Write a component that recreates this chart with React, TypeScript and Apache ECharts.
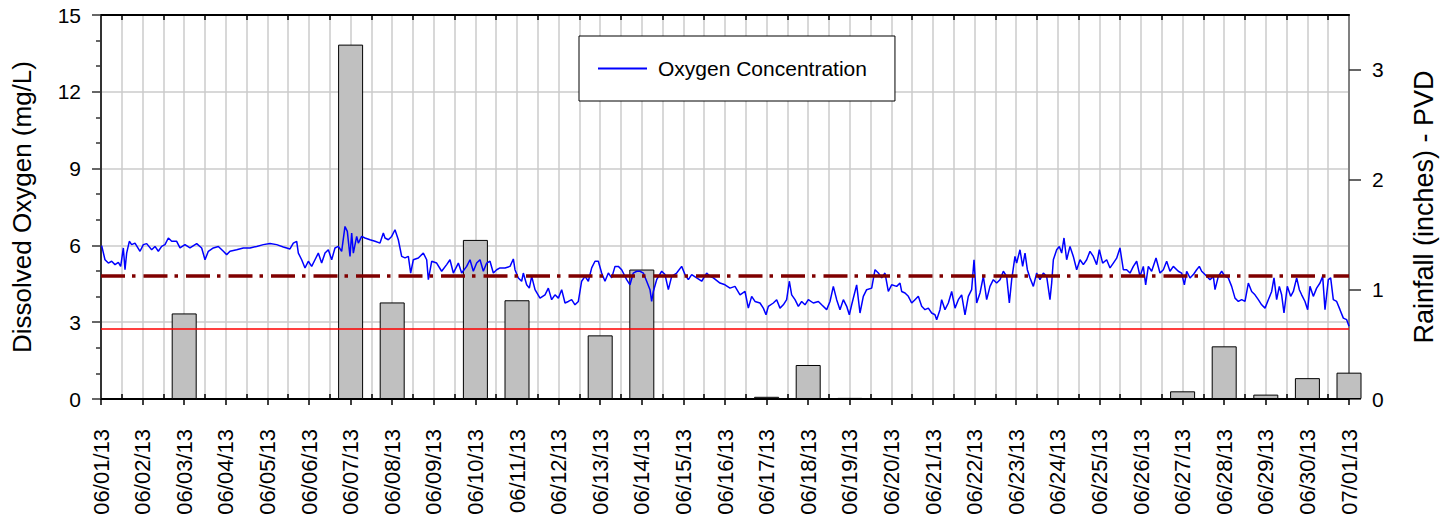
import React, { useEffect, useRef } from 'react';
import * as echarts from 'echarts';

const FONT = "'Liberation Sans', Arial, sans-serif";

const dateLabels = [
  '06/01/13', '06/02/13', '06/03/13', '06/04/13', '06/05/13', '06/06/13', '06/07/13', '06/08/13',
  '06/09/13', '06/10/13', '06/11/13', '06/12/13', '06/13/13', '06/14/13', '06/15/13', '06/16/13',
  '06/17/13', '06/18/13', '06/19/13', '06/20/13', '06/21/13', '06/22/13', '06/23/13', '06/24/13',
  '06/25/13', '06/26/13', '06/27/13', '06/28/13', '06/29/13', '06/30/13', '07/01/13',
];

// Rainfall: day offset from 06/01/13, inches
const rainfallDay = [2, 6, 7, 9, 10, 12, 13, 16, 17, 18, 26, 27, 28, 29, 30];
const rainfallInches = [0.78, 3.23, 0.88, 1.45, 0.9, 0.58, 1.18, 0.02, 0.31, 0.01, 0.07, 0.48, 0.04, 0.19, 0.24];

const doTarget = 4.8;
const doMinimum = 2.75;

const leftTicks = { min: 0, max: 15, interval: 3 };
const rightTicks = [0, 1, 2, 3];

// Oxygen readings: [day offset from 06/01/13, mg/L]
const oxygenWeek1: [number, number][] = [
  [0.016, 5.99], [0.096, 5.44], [0.176, 5.31], [0.256, 5.38], [0.337, 5.25], [0.417, 5.34], [0.473, 5.18],
  [0.537, 5.9], [0.577, 5.05], [0.617, 5.7], [0.681, 6.16], [0.737, 6.03], [0.817, 6.09], [0.938, 5.77],
  [1.018, 6.03], [1.098, 6.07], [1.218, 5.83], [1.298, 5.96], [1.378, 5.77], [1.458, 5.96], [1.538, 6.03],
  [1.619, 6.29], [1.699, 6.16], [1.819, 6.16], [1.899, 5.9], [2.019, 6.03], [2.139, 5.9], [2.3, 6.07],
  [2.42, 5.9], [2.5, 5.44], [2.58, 5.77], [2.7, 5.9], [2.821, 5.96], [2.941, 5.77], [3.021, 5.64],
  [3.101, 5.77], [3.261, 5.83], [3.421, 5.9], [3.582, 5.9], [3.742, 5.96], [3.902, 6.03], [4.063, 6.07],
  [4.223, 6.03], [4.383, 5.94], [4.543, 5.86], [4.623, 6.09], [4.704, 6.16], [4.744, 5.7], [4.824, 5.44],
  [4.904, 5.12], [4.984, 5.38], [5.064, 5.18], [5.144, 5.44], [5.224, 5.7], [5.304, 5.31], [5.385, 5.7],
  [5.465, 5.83], [5.545, 5.44], [5.625, 5.9], [5.705, 5.96], [5.785, 5.77], [5.865, 6.74], [5.921, 6.55],
  [5.986, 5.57], [6.026, 6.48], [6.066, 5.7], [6.146, 6.35], [6.186, 6.09], [6.266, 6.35], [6.346, 6.29],
  [6.466, 6.22], [6.587, 6.16], [6.707, 6.09], [6.787, 6.48], [6.827, 6.29], [6.907, 6.22], [6.987, 6.35],
  [7.067, 6.61], [7.147, 6.22], [7.228, 5.57], [7.308, 5.51], [7.388, 5.57], [7.444, 4.92], [7.508, 5.44],
  [7.628, 5.51], [7.748, 5.7], [7.829, 5.44], [7.869, 4.66], [7.949, 5.38], [8.069, 5.31], [8.189, 4.99],
  [8.309, 5.25], [8.389, 5.44], [8.47, 4.92], [8.59, 5.31], [8.67, 4.92], [8.79, 5.18], [8.87, 5.44],
  [8.95, 4.99], [9.03, 5.31],
];

const oxygenMidMonth: [number, number][] = [
  [9.111, 5.44], [9.191, 4.99], [9.271, 5.31], [9.351, 5.38], [9.431, 4.92], [9.511, 5.05], [9.591, 5.12],
  [9.712, 5.12], [9.832, 5.18], [9.912, 5.47], [9.952, 5.05], [10.032, 4.73], [10.112, 4.6], [10.152, 4.92],
  [10.232, 4.46], [10.296, 4.33], [10.353, 4.79], [10.433, 4.27], [10.553, 3.94], [10.673, 4.07], [10.753, 4.33],
  [10.833, 3.88], [10.913, 4.07], [10.994, 3.94], [11.074, 4.27], [11.154, 3.75], [11.234, 3.81], [11.314, 3.88],
  [11.394, 3.68], [11.474, 3.81], [11.554, 4.6], [11.635, 4.79], [11.715, 4.6], [11.795, 5.12], [11.875, 5.38],
  [11.955, 5.38], [12.035, 4.92], [12.115, 4.6], [12.196, 4.92], [12.276, 4.73], [12.356, 5.18], [12.436, 5.18],
  [12.516, 5.05], [12.636, 4.66], [12.716, 4.46], [12.796, 4.92], [12.877, 4.99], [12.957, 4.99], [13.037, 4.92],
  [13.117, 4.6], [13.197, 4.27], [13.237, 3.81], [13.277, 4.2], [13.357, 4.66], [13.478, 4.99], [13.558, 4.86],
  [13.638, 4.27], [13.718, 4.79], [13.838, 4.92], [13.958, 5.18], [14.038, 4.86], [14.119, 4.66], [14.199, 4.86],
  [14.319, 4.73], [14.439, 4.6], [14.559, 4.92], [14.639, 4.79], [14.72, 4.73], [14.88, 4.53], [15.0, 4.46],
  [15.12, 4.33], [15.24, 4.4], [15.361, 4.07], [15.481, 4.2], [15.561, 3.55], [15.641, 4.01], [15.721, 3.81],
  [15.841, 3.75], [15.921, 3.55], [15.986, 3.29], [16.042, 3.62], [16.162, 3.75], [16.242, 3.88], [16.322, 3.55],
  [16.402, 3.68], [16.482, 3.88], [16.546, 4.6], [16.603, 4.07], [16.683, 3.88], [16.763, 3.62], [16.843, 3.81],
  [16.923, 3.68], [17.003, 3.88], [17.123, 3.75], [17.244, 3.81], [17.324, 3.68], [17.444, 3.49], [17.524, 3.81],
  [17.604, 4.4], [17.684, 3.88], [17.764, 3.49], [17.845, 3.88], [17.925, 3.62], [17.989, 3.29], [18.045, 3.68],
  [18.165, 4.46], [18.245, 3.36], [18.325, 4.01], [18.405, 4.27], [18.526, 4.33], [18.606, 5.05], [18.686, 4.92],
  [18.766, 4.73], [18.846, 4.92], [18.926, 4.2], [19.006, 4.46], [19.127, 4.4], [19.207, 4.53],
];

const oxygenLateMonth: [number, number][] = [
  [19.247, 4.2], [19.327, 4.14], [19.407, 4.01], [19.487, 3.75], [19.567, 3.88], [19.647, 4.01], [19.728, 3.62],
  [19.808, 3.49], [19.888, 3.55], [19.968, 3.36], [20.048, 3.29], [20.088, 3.1], [20.168, 3.49], [20.208, 3.88],
  [20.288, 3.49], [20.369, 3.75], [20.449, 4.2], [20.529, 3.55], [20.609, 3.88], [20.689, 4.07], [20.769, 3.29],
  [20.849, 4.01], [20.929, 4.27], [20.986, 5.44], [21.05, 3.75], [21.13, 4.14], [21.21, 4.79], [21.29, 3.88],
  [21.37, 4.4], [21.45, 4.66], [21.53, 4.53], [21.611, 4.66], [21.691, 4.99], [21.771, 4.79], [21.835, 3.75],
  [21.891, 4.66], [21.971, 5.57], [22.011, 5.31], [22.091, 5.83], [22.155, 5.18], [22.212, 5.7], [22.268, 5.05],
  [22.332, 4.73], [22.412, 4.4], [22.492, 4.92], [22.572, 4.66], [22.652, 4.92], [22.732, 4.79], [22.812, 3.88],
  [22.853, 4.53], [22.893, 5.44], [22.973, 5.83], [23.037, 5.96], [23.093, 5.7], [23.149, 6.29], [23.213, 5.44],
  [23.293, 5.96], [23.373, 5.57], [23.454, 5.05], [23.534, 5.44], [23.614, 5.25], [23.694, 5.44], [23.774, 5.77],
  [23.854, 5.57], [23.934, 5.25], [23.998, 5.83], [24.078, 5.31], [24.175, 5.44], [24.255, 5.12], [24.335, 5.31],
  [24.415, 5.5], [24.495, 5.9], [24.575, 5.05], [24.655, 5.05], [24.736, 4.92], [24.816, 5.18], [24.896, 5.38],
  [24.976, 4.79], [25.056, 5.18], [25.112, 4.46], [25.176, 5.18], [25.256, 4.99], [25.361, 5.51], [25.457, 4.92],
  [25.537, 5.05], [25.617, 5.38], [25.697, 4.99], [25.777, 5.18], [25.897, 4.99], [25.978, 4.92], [26.042, 4.46],
  [26.098, 4.99], [26.178, 4.73], [26.258, 4.86], [26.338, 5.05], [26.402, 5.18], [26.458, 4.99], [26.538, 4.86],
  [26.659, 4.66], [26.739, 4.79], [26.779, 4.27], [26.859, 4.79], [26.939, 4.99], [27.019, 4.79], [27.099, 4.73],
  [27.179, 4.4], [27.26, 3.94], [27.34, 3.81], [27.42, 3.88], [27.5, 3.81], [27.58, 4.53], [27.66, 4.2],
  [27.74, 4.07], [27.82, 3.88], [27.901, 3.68], [27.981, 3.55], [28.061, 3.88], [28.141, 4.2], [28.197, 4.73],
  [28.261, 3.88], [28.325, 4.4], [28.381, 4.07], [28.437, 3.36], [28.517, 4.4], [28.598, 4.01], [28.662, 4.2],
  [28.742, 4.73], [28.806, 4.27], [28.862, 4.07], [28.942, 3.81], [29.006, 3.49], [29.062, 4.4], [29.142, 4.01],
  [29.222, 4.33], [29.303, 4.53], [29.367, 4.79], [29.423, 3.49], [29.503, 4.66], [29.559, 4.73], [29.623, 3.88],
  [29.703, 3.81], [29.783, 3.49], [29.864, 3.16], [29.944, 3.1], [30.0, 2.84],
];

const halfDays = dateLabels.slice(1).map((_, i) => i + 0.5);

export default function App() {
  const ref = useRef<HTMLDivElement>(null);

  useEffect(() => {
    if (!ref.current) return;
    const chart = echarts.init(ref.current, null, { renderer: 'svg' });
    const grid = '#cbcbcb';
    const oxygen = [...oxygenWeek1, ...oxygenMidMonth, ...oxygenLateMonth];
    const rain = rainfallDay.map((d, i) => [d, rainfallInches[i]]);

    chart.setOption({
      animation: false,
      backgroundColor: '#ffffff',
      textStyle: { fontFamily: FONT },
      grid: { left: 101, right: 107, top: 15, bottom: 121, containLabel: false },
      legend: {
        data: [{ name: 'Oxygen Concentration', icon: 'rect' }],
        left: 579,
        top: 36,
        orient: 'horizontal',
        backgroundColor: '#ffffff',
        borderColor: '#000000',
        borderWidth: 1,
        borderRadius: 0,
        padding: [22, 28, 22, 19],
        itemWidth: 49,
        itemHeight: 2,
        itemStyle: { color: '#0000ff', borderWidth: 0 },
        textStyle: { fontSize: 21, color: '#000', fontFamily: FONT, padding: [0, 0, 0, 6] },
      },
      xAxis: [
        {
          type: 'value',
          position: 'bottom',
          min: 0,
          max: 30,
          interval: 1,
          axisLine: { show: true, onZero: false, lineStyle: { color: '#000', width: 2 } },
          axisTick: { show: true, length: 6, lineStyle: { color: '#000', width: 1.5 } },
          minorTick: { show: false, splitNumber: 2 },
          axisLabel: {
            rotate: 90,
            margin: 30,
            fontSize: 22,
            color: '#000',
            fontFamily: FONT,
            formatter: (v: number) => dateLabels[Math.round(v)] ?? '',
          },
          splitLine: { show: true, lineStyle: { color: grid, width: 1.5 } },
          minorSplitLine: { show: true, lineStyle: { color: grid, width: 1.5 } },
        },
        {
          type: 'value',
          position: 'top',
          min: 0,
          max: 30,
          interval: 1,
          axisLine: { show: true, onZero: false, lineStyle: { color: '#000', width: 2 } },
          axisTick: { show: true, inside: true, length: 5, customValues: halfDays, lineStyle: { color: '#000', width: 1.5 } },
          axisLabel: { show: false },
          splitLine: { show: false },
        },
        {
          type: 'value',
          position: 'bottom',
          min: 0,
          max: 30,
          interval: 1,
          axisLine: { show: false, onZero: false },
          axisTick: { show: true, inside: true, length: 5, customValues: halfDays, lineStyle: { color: '#000', width: 1.5 } },
          axisLabel: { show: false },
          splitLine: { show: false },
        },
      ],
      yAxis: [
        {
          type: 'value',
          position: 'left',
          min: leftTicks.min,
          max: leftTicks.max,
          interval: leftTicks.interval,
          axisLine: { show: true, onZero: false, lineStyle: { color: '#333', width: 2 } },
          axisTick: { show: true, length: 9, lineStyle: { color: '#333', width: 1.5 } },
          minorTick: { show: true, splitNumber: 3, length: 5, lineStyle: { color: '#333', width: 1.5 } },
          axisLabel: { fontSize: 21, margin: 20, color: '#000', fontFamily: FONT },
          splitLine: { show: true, lineStyle: { color: grid, width: 1.5 } },
          name: 'Dissolved Oxygen (mg/L)',
          nameLocation: 'middle',
          nameGap: 66,
          nameTextStyle: { fontSize: 26, color: '#000', fontFamily: FONT },
        },
        {
          type: 'value',
          position: 'right',
          min: 0,
          max: 3.5,
          interval: 1,
          axisLine: { show: true, onZero: false, lineStyle: { color: '#808080', width: 2 } },
          axisTick: { show: true, length: 12, customValues: rightTicks, lineStyle: { color: '#333', width: 1.5 } },
          axisLabel: { fontSize: 21, margin: 23, color: '#000', fontFamily: FONT, customValues: rightTicks },
          splitLine: { show: false },
          name: 'Rainfall (inches) - PVD',
          nameLocation: 'middle',
          nameGap: 61,
          nameTextStyle: { fontSize: 27, color: '#000', fontFamily: FONT },
        },
      ],
      series: [
        {
          name: 'Rainfall',
          type: 'bar',
          xAxisIndex: 0,
          yAxisIndex: 1,
          data: rain,
          barWidth: 25,
          clip: true,
          itemStyle: { color: '#c0c0c0', borderColor: '#000', borderWidth: 1 },
          silent: true,
        },
        {
          name: 'Oxygen Concentration',
          type: 'line',
          xAxisIndex: 0,
          yAxisIndex: 0,
          data: oxygen,
          symbol: 'none',
          showSymbol: false,
          lineStyle: { color: '#0000ff', width: 1.5 },
          itemStyle: { color: '#0000ff' },
          markLine: {
            silent: true,
            symbol: ['none', 'none'],
            label: { show: false },
            data: [
              { yAxis: doMinimum, lineStyle: { color: '#ff0000', width: 1.5, type: 'solid' } },
              { yAxis: doTarget, lineStyle: { color: '#800000', width: 3.5, type: [24, 7, 3.5, 8], cap: 'butt' } },
            ],
          },
        },
      ],
    });

    return () => chart.dispose();
  }, []);

  return (
    <div
      ref={ref}
      style={{ position: 'absolute', left: 0, top: 0, width: 1456, height: 520 }}
    />
  );
}
